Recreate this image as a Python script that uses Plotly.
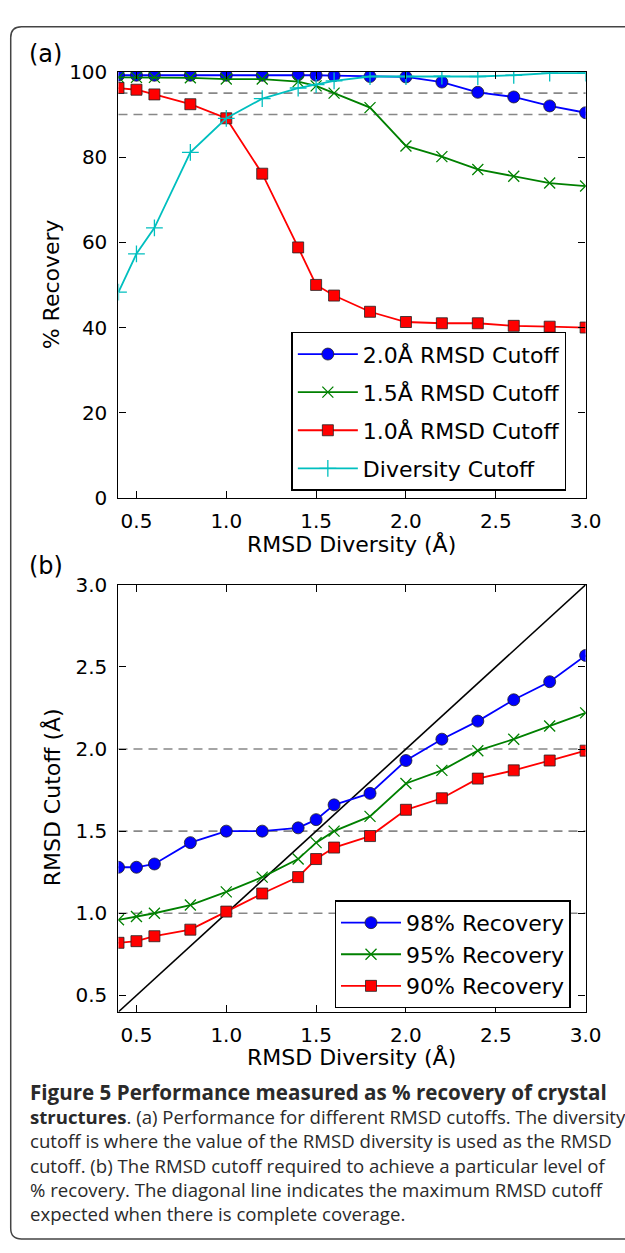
import plotly.graph_objects as go

# ---------------- data ----------------
rmsd_diversity = [0.4, 0.5, 0.6, 0.8, 1.0, 1.2, 1.4, 1.5, 1.6, 1.8, 2.0, 2.2, 2.4, 2.6, 2.8, 3.0]

# panel (a): % recovery
recovery_20 = [99.2, 99.2, 99.2, 99.2, 99.2, 99.2, 99.3, 99.2, 99.1, 98.9, 98.8, 97.6, 95.2, 94.1, 92.0, 90.4]
recovery_15 = [98.7, 98.7, 98.7, 98.6, 98.3, 98.3, 97.7, 96.7, 95.0, 91.6, 82.6, 80.1, 77.1, 75.5, 73.9, 73.2]
recovery_10 = [96.2, 95.8, 94.7, 92.4, 89.1, 76.1, 58.8, 50.0, 47.5, 43.7, 41.3, 41.0, 41.0, 40.4, 40.2, 40.0]
recovery_div = [48.3, 57.3, 63.4, 81.1, 89.1, 93.7, 96.2, 97.0, 97.9, 98.9, 98.9, 99.0, 98.9, 99.2, 99.7, 99.7]
ref_levels_a = [90, 95]

# panel (b): RMSD cutoff needed
cutoff_98 = [1.28, 1.28, 1.30, 1.43, 1.50, 1.50, 1.52, 1.57, 1.66, 1.73, 1.93, 2.06, 2.17, 2.30, 2.41, 2.57]
cutoff_95 = [0.96, 0.98, 1.00, 1.05, 1.13, 1.22, 1.33, 1.43, 1.50, 1.59, 1.79, 1.87, 1.99, 2.06, 2.14, 2.22]
cutoff_90 = [0.82, 0.83, 0.86, 0.90, 1.01, 1.12, 1.22, 1.33, 1.40, 1.47, 1.63, 1.70, 1.82, 1.87, 1.93, 1.99]
diagonal = [0.4, 3.0]
ref_levels_b = [1.0, 1.5, 2.0]

xticks = [0.5, 1.0, 1.5, 2.0, 2.5, 3.0]
yticks_a = [0, 20, 40, 60, 80, 100]
yticks_b = [0.5, 1.0, 1.5, 2.0, 2.5, 3.0]

caption_lines = [
    "<span style='font-size:20.6px'><b>Figure 5 Performance measured as % recovery of crystal</b></span>",
    "<b>structures</b>. (a) Performance for different RMSD cutoffs. The diversity",
    "cutoff is where the value of the RMSD diversity is used as the RMSD",
    "cutoff. (b) The RMSD cutoff required to achieve a particular level of",
    "% recovery. The diagonal line indicates the maximum RMSD cutoff",
    "expected when there is complete coverage.",
]

# ---------------- layout helpers ----------------
W, H = 625, 1253
def px(x):
    return x / W
def py(y):
    return 1 - y / H

FONT = "DejaVu Sans"
BLUE, GREEN, RED, CYAN = "#0000FF", "#008000", "#FF0000", "#00BFBF"

fig = go.Figure()

def add_series(x, y, name, color, symbol, size, xa, ya, legend, filled=True):
    if filled:
        marker = dict(symbol=symbol, size=size, color=color,
                      line=dict(color="#222222", width=0.8))
    else:
        marker = dict(symbol=symbol, size=size, color=color,
                      line=dict(color=color, width=1.3))
    fig.add_trace(go.Scatter(
        x=x, y=y, name=name, mode="lines+markers",
        line=dict(color=color, width=1.8), marker=marker,
        xaxis=xa, yaxis=ya, legend=legend, legendgroup=name,
    ))

# panel (a)
add_series(rmsd_diversity, recovery_20, "2.0Å RMSD Cutoff", BLUE, "circle", 12, "x", "y", "legend")
add_series(rmsd_diversity, recovery_15, "1.5Å RMSD Cutoff", GREEN, "x-thin", 11, "x", "y", "legend", filled=False)
add_series(rmsd_diversity, recovery_10, "1.0Å RMSD Cutoff", RED, "square", 11, "x", "y", "legend")
add_series(rmsd_diversity, recovery_div, "Diversity Cutoff", CYAN, "cross-thin", 12, "x", "y", "legend", filled=False)

# panel (b)
fig.add_trace(go.Scatter(x=diagonal, y=diagonal, mode="lines", line=dict(color="black", width=1.6),
                         xaxis="x2", yaxis="y2", showlegend=False, hoverinfo="skip"))
add_series(rmsd_diversity, cutoff_98, "98% Recovery", BLUE, "circle", 12, "x2", "y2", "legend2")
add_series(rmsd_diversity, cutoff_95, "95% Recovery", GREEN, "x-thin", 11, "x2", "y2", "legend2", filled=False)
add_series(rmsd_diversity, cutoff_90, "90% Recovery", RED, "square", 11, "x2", "y2", "legend2")

# dashed reference lines
shapes = []
for lv in ref_levels_a:
    shapes.append(dict(type="line", xref="x domain", yref="y", x0=0, x1=1, y0=lv, y1=lv,
                       line=dict(color="#888888", width=1.6, dash="9px,6px"), layer="below"))
for lv in ref_levels_b:
    shapes.append(dict(type="line", xref="x2 domain", yref="y2", x0=0, x1=1, y0=lv, y1=lv,
                       line=dict(color="#888888", width=1.6, dash="9px,6px"), layer="below"))

# outer rounded frame (extends past right edge)
L, T, R, B, r = 11, 15, 660, 1251, 11
path = (f"M {px(L)},{py(T + r)} Q {px(L)},{py(T)} {px(L + r)},{py(T)} "
        f"L {px(R)},{py(T)} L {px(R)},{py(B)} L {px(L + r)},{py(B)} "
        f"Q {px(L)},{py(B)} {px(L)},{py(B - r)} Z")
shapes.append(dict(type="path", xref="paper", yref="paper", path=path,
                   line=dict(color="#444444", width=1.5), fillcolor="rgba(0,0,0,0)"))

xdom = [px(121.6), px(601)]
axis_common = dict(showline=True, linecolor="black", linewidth=1.3, mirror="ticks",
                   ticks="inside", ticklen=7, tickwidth=1.2, tickcolor="black",
                   showgrid=False, zeroline=False,
                   tickfont=dict(family=FONT, size=20, color="black"))

fig.update_layout(
    width=W, height=H,
    margin=dict(l=0, r=0, t=0, b=0, pad=0),
    paper_bgcolor="white", plot_bgcolor="white",
    shapes=shapes,
    xaxis=dict(domain=xdom, anchor="y", range=[0.4, 3.0], tickvals=xticks,
               tickformat=".1f", ticklabelstandoff=5, **axis_common),
    yaxis=dict(domain=[py(495.5), py(61)], anchor="x", range=[0, 100], tickvals=yticks_a,
               ticklabelstandoff=6, **axis_common),
    xaxis2=dict(domain=xdom, anchor="y2", range=[0.4, 3.0], tickvals=xticks,
                tickformat=".1f", ticklabelstandoff=5, **axis_common),
    yaxis2=dict(domain=[py(1019.3), py(584)], anchor="x2", range=[0.4, 3.0], tickvals=yticks_b,
                tickformat=".1f", ticklabelstandoff=6, **axis_common),
    legend=dict(x=px(299), y=py(326), xanchor="left", yanchor="top",
                bgcolor="white", bordercolor="black", borderwidth=1.5,
                font=dict(family=FONT, size=22, color="black"),
                itemwidth=60, tracegroupgap=6.5, traceorder="grouped"),
    legend2=dict(x=px(343.3), y=py(905.7), xanchor="left", yanchor="top",
                 bgcolor="white", bordercolor="black", borderwidth=1.5,
                 font=dict(family=FONT, size=22, color="black"),
                 itemwidth=60, tracegroupgap=0, traceorder="normal"),
    showlegend=True,
)

ann = []
def add_text(text, x, y, size, xanchor="center", yanchor="middle", angle=0, family=FONT,
             color="black", align="center"):
    ann.append(dict(text=text, x=px(x), y=py(y), xref="paper", yref="paper",
                    xanchor=xanchor, yanchor=yanchor, showarrow=False, textangle=angle,
                    align=align, font=dict(family=family, size=size, color=color)))

add_text("(a)", 47, 43, 24)
add_text("(b)", 47, 565, 24)
add_text("% Recovery", 53, 278, 22, angle=-90)
add_text("RMSD Cutoff (Å)", 53, 801, 22, angle=-90)
add_text("RMSD Diversity (Å)", 361, 542, 22)
add_text("RMSD Diversity (Å)", 361, 1065, 22)

# caption as a single multi-line text block
add_text("<br>".join(caption_lines), 29, 1162, 18.6, xanchor="left", family="Open Sans",
         color="#2a2a2a", align="left")

fig.update_layout(annotations=ann)

post = (
    "document.documentElement.style.margin='0';"
    "document.documentElement.style.overflow='hidden';"
    "document.body.style.margin='0';"
    "document.body.style.padding='0';"
    "document.body.style.overflow='hidden';"
)

fig.write_html(
    "out.html",
    config={"displayModeBar": False},
    post_script=post,
)
